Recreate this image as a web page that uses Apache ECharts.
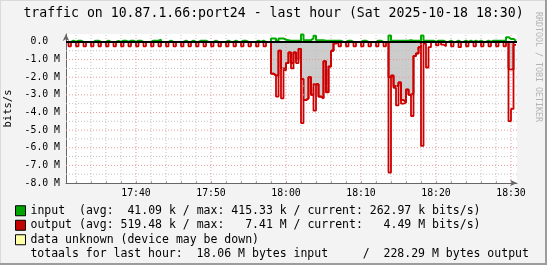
<!DOCTYPE html>
<html><head><meta charset="utf-8">
<script src="https://cdn.jsdelivr.net/npm/echarts@6/dist/echarts.min.js"></script>
<style>html,body{margin:0;padding:0;background:#f3f3f3}#c{width:547px;height:265px}</style>
</head><body><div id="c"></div>
<script>
// time axis in minutes after 17:00; samples every 20 s, each value marks the end of its interval
const startMinute = 30 + 40 / 60;   // 17:30:40, left edge of the plot
const stepMinutes = 20 / 60;
const axisEndMinute = 90.8;
const tickMinutes = [40, 50, 60, 70, 80, 90];
const tickLabels = ['17:40', '17:50', '18:00', '18:10', '18:20', '18:30'];
const yTickValues = [0, -1, -2, -3, -4, -5, -6, -7, -8];
const yTickLabels = ['0.0  ', '-1.0 M', '-2.0 M', '-3.0 M', '-4.0 M', '-5.0 M', '-6.0 M', '-7.0 M', '-8.0 M'];

// input (M bits/s, drawn upward)
const input = [
  0, 0, 0.07, 0, 0.07, 0.07, 0, 0, 0, 0,
  0, 0.07, 0.07, 0, 0, 0, 0.07, 0, 0, 0,
  0.06, 0, 0.07, 0.07, 0, 0.07, 0.07, 0, 0.07, 0.07,
  0, 0, 0, 0, 0.07, 0.07, 0.07, 0.13, 0, 0,
  0, 0.07, 0, 0, 0, 0, 0, 0.07, 0, 0,
  0.07, 0, 0, 0.07, 0.07, 0.07, 0, 0, 0, 0.07,
  0, 0, 0, 0, 0.07, 0, 0, 0.07, 0, 0,
  0.07, 0.07, 0, 0, 0, 0, 0.07, 0, 0.07, 0,
  0, 0, 0.2, 0.2, 0.07, 0.2, 0.2, 0.12, 0.1, 0.07,
  0.07, 0.07, 0.07, 0.07, 0.415, 0.1, 0.1, 0.1, 0.2, 0.35,
  0.1, 0.1, 0.1, 0.07, 0.07, 0.07, 0.07, 0.07, 0.07, 0.07,
  0, 0, 0.07, 0.07, 0, 0, 0, 0, 0.07, 0.07,
  0, 0, 0, 0, 0.07, 0.07, 0, 0, 0, 0.36,
  0.07, 0.07, 0.07, 0.07, 0.07, 0.07, 0.07, 0.1, 0.07, 0.07,
  0.07, 0.07, 0.36, 0.07, 0.07, 0.07, 0.07, 0, 0.07, 0.07,
  0.07, 0, 0, 0.07, 0, 0, 0.07, 0, 0, 0.07,
  0, 0.07, 0, 0.07, 0, 0.07, 0, 0, 0.07, 0,
  0.07, 0.07, 0.07, 0.07, 0.07, 0.07, 0.27, 0.17, 0.17, 0.07
];

// output (M bits/s, drawn downward) - fine red line
const output = [
  0, -0.25, 0, 0, -0.25, 0, 0, -0.25, 0, 0,
  -0.25, 0, 0, -0.25, 0, 0, -0.25, 0, 0, -0.25,
  0, 0, -0.25, 0, 0, -0.25, 0, 0, -0.25, 0,
  0, -0.25, 0, 0, -0.25, 0, 0, -0.25, 0, 0,
  -0.25, 0, 0, -0.25, 0, 0, -0.25, 0, 0, -0.25,
  0, 0, -0.25, 0, 0, -0.25, 0, 0, -0.25, 0,
  0, -0.25, 0, 0, -0.25, 0, 0, -0.25, 0, 0,
  -0.25, 0, 0, -0.25, 0, 0, -0.25, 0, 0, -0.25,
  0, 0, -1.8, -1.9, -3.1, -0.5, -3.2, -1.6, -1.2, -0.6,
  -1.5, -0.6, -1.2, -0.4, -4.6, -3.3, -3.2, -2.0, -3.0, -3.9,
  -2.4, -3.1, -3.2, -1.1, -2.85, -1.4, -0.5, -0.1, 0, -0.25,
  0, 0, -0.25, 0, 0, -0.25, 0, 0, -0.25, 0,
  0, -0.25, 0, 0, -0.25, 0, 0, -0.25, 0, -7.41,
  -1.9, -2.6, -3.6, -2.3, -3.5, -3.45, -2.7, -3.0, -4.2, -0.8,
  -0.65, -0.3, -5.9, -0.1, -1.45, -0.3, 0, 0, -0.2, 0,
  -0.15, -0.25, 0, 0, -0.25, 0, 0, -0.3, 0, 0,
  -0.25, 0, 0, -0.25, 0, 0, -0.25, 0, 0, -0.25,
  0, 0, -0.25, 0, 0, -0.25, 0, -4.49, -3.8, -0.17
];

// grey output area (smoother level), read per valley
const areaValley1Start = 82;
const areaValley1 = [-1.8, -1.9, -1.9, -0.5, -1.5, -1.5, -1.2, -0.6, -1.2, -0.6, -1.0, -0.4, -2.1,
  -3.3, -3.2, -2.0, -3.0, -2.4, -2.4, -3.1, -3.2, -1.1, -2.85, -1.4, -0.5];
const areaValley2Start = 129;
const areaValley2 = [-2.0, -1.9, -2.5, -2.5, -2.3, -3.3, -3.4, -2.7, -3.0, -2.9, -0.8, -0.65, -0.3];
const areaEndStart = 177;
const areaEnd = [-1.55, -1.55];

const legendText = {
  'input': 'input  (avg:  41.09 k / max: 415.33 k / current: 262.97 k bits/s)',
  'output': 'output (avg: 519.48 k / max:   7.41 M / current:   4.49 M bits/s)',
  'data unknown': 'data unknown (device may be down)'
};
const totalsText = 'totaals for last hour:  18.06 M bytes input     /  228.29 M bytes output';
const titleText = 'traffic on 10.87.1.66:port24 - last hour (Sat 2025-10-18 18:30)';

// ---- build series data ----
const mono = "'DejaVu Sans Mono', monospace";
const yTop = 0.45, yBottom = -8;
const times = input.map((_, k) => startMinute + (k + 1) * stepMinutes);
const areaFull = output.map(() => 0);
[[areaValley1Start, areaValley1], [areaValley2Start, areaValley2], [areaEndStart, areaEnd]].forEach(([s, arr]) => {
  arr.forEach((v, i) => { areaFull[s + i] = v; });
});
const pair = arr => arr.map((v, k) => [times[k], v]);

const minorX = [], majorX = tickMinutes.slice();
for (let m = 32; m <= 90; m += 2) if (tickMinutes.indexOf(m) < 0) minorX.push(m);
const allXTicks = [];
for (let m = 32; m <= 90; m += 2) allXTicks.push(m);
const majorY = [-1, -2, -3, -4, -5, -6, -7];
const minorY = [-0.5, -1.5, -2.5, -3.5, -4.5, -5.5, -6.5, -7.5];
function gridSegments(xs, ys) {
  const out = [];
  xs.forEach(x => { out.push([x, yBottom], [x, yTop], [x, null]); });
  ys.forEach(y => { out.push([startMinute, y], [axisEndMinute, y], [null, null]); });
  return out;
}
const minorColor = '#c2c2c2', majorColor = '#e39a9a';

const chart = echarts.init(document.getElementById('c'), null, {renderer: 'canvas'});
chart.setOption({
  animation: false,
  backgroundColor: '#f3f3f3',
  title: {
    text: titleText, left: 'center', top: 7, padding: 0,
    textStyle: {fontFamily: mono, fontSize: 13.2, fontWeight: 'normal', color: '#000'}
  },
  grid: {left: 66, top: 34, width: 451, height: 149, containLabel: false, outerBoundsMode: 'none',
    show: true, backgroundColor: '#ffffff', borderWidth: 0},
  xAxis: {
    type: 'value', min: startMinute, max: axisEndMinute,
    axisLine: {show: true, onZero: false, lineStyle: {color: '#666', width: 1},
      symbol: ['none', 'arrow'], symbolSize: [5, 7]},
    axisTick: {show: true, inside: true, length: 2, customValues: allXTicks, lineStyle: {color: '#999'}},
    axisLabel: {customValues: tickMinutes, formatter: v => tickLabels[tickMinutes.indexOf(v)] || '',
      fontFamily: mono, fontSize: 9.8, color: '#000', margin: 5},
    splitLine: {show: false}
  },
  yAxis: {
    type: 'value', min: yBottom, max: yTop,
    name: 'bits/s', nameLocation: 'middle', nameRotate: 90, nameGap: 51,
    nameTextStyle: {fontFamily: mono, fontSize: 10.5, color: '#000'},
    axisLine: {show: true, onZero: false, lineStyle: {color: '#666', width: 1},
      symbol: ['none', 'arrow'], symbolSize: [5, 7]},
    axisTick: {show: false},
    axisLabel: {customValues: yTickValues, formatter: v => yTickLabels[yTickValues.indexOf(v)] || '',
      fontFamily: mono, fontSize: 9.8, color: '#000', margin: 6},
    splitLine: {show: false}
  },
  legend: {
    orient: 'vertical', left: 10, top: 198.5, itemWidth: 10, itemHeight: 10, itemGap: 0,
    selectedMode: false, icon: 'rect',
    textStyle: {fontFamily: mono, fontSize: 11.5, color: '#000', lineHeight: 14.5},
    formatter: name => legendText[name],
    data: [
      {name: 'input', icon: 'rect', itemStyle: {color: '#00a400', borderColor: '#000', borderWidth: 1}},
      {name: 'output', icon: 'rect', itemStyle: {color: '#c40000', borderColor: '#000', borderWidth: 1}},
      {name: 'data unknown', icon: 'rect', itemStyle: {color: '#ffffa8', borderColor: '#000', borderWidth: 1}}
    ]
  },
  graphic: [
    {type: 'line', shape: {x1: 0, y1: 0.5, x2: 547, y2: 0.5}, style: {stroke: '#dadada', lineWidth: 1}},
    {type: 'line', shape: {x1: 0.5, y1: 0, x2: 0.5, y2: 265}, style: {stroke: '#dadada', lineWidth: 1}},
    {type: 'line', shape: {x1: 0, y1: 264, x2: 547, y2: 264}, style: {stroke: '#9c9c9c', lineWidth: 2}},
    {type: 'line', shape: {x1: 546, y1: 0, x2: 546, y2: 265}, style: {stroke: '#9c9c9c', lineWidth: 2}},
    {type: 'text', x: 30.4, y: 254.3, style: {text: totalsText, font: '11.5px ' + mono, fill: '#000',
      textAlign: 'left', textVerticalAlign: 'middle'}},
    {type: 'text', x: 538, y: 12, rotation: -Math.PI / 2,
      style: {text: 'RRDTOOL / TOBI OETIKER', font: '8.3px ' + mono, fill: '#b4b4b4',
        textAlign: 'left', textVerticalAlign: 'middle'}}
  ],
  series: [
    {
      name: 'output area', type: 'line', step: 'start', data: pair(areaFull), z: 2,
      showSymbol: false, symbol: 'none', silent: true,
      lineStyle: {color: '#cc0000', width: 2}, areaStyle: {color: '#cccccc', opacity: 1}
    },
    {
      name: 'minor grid', type: 'line', data: gridSegments(minorX, minorY), z: 3, silent: true,
      showSymbol: false, symbol: 'none', connectNulls: false,
      lineStyle: {color: minorColor, width: 1, type: [1, 2]}
    },
    {
      name: 'major grid', type: 'line', data: gridSegments(majorX, majorY), z: 3, silent: true,
      showSymbol: false, symbol: 'none', connectNulls: false,
      lineStyle: {color: majorColor, width: 1, type: [1, 2]}
    },
    {
      name: 'output', type: 'line', step: 'start', data: pair(output), z: 4,
      showSymbol: false, symbol: 'none', silent: true, color: '#cc0000',
      lineStyle: {color: '#cc0000', width: 1.8}
    },
    {
      name: 'input', type: 'line', step: 'start', data: pair(input), z: 5,
      showSymbol: false, symbol: 'none', silent: true, color: '#00aa00',
      lineStyle: {color: '#00aa00', width: 2}
    },
    {
      name: 'zero', type: 'line', data: [[startMinute, 0], [axisEndMinute, 0]], z: 6, zlevel: 1, silent: true,
      showSymbol: false, symbol: 'none', lineStyle: {color: '#000000', width: 2}
    },
    {name: 'data unknown', type: 'line', data: [], color: '#ffffa8'}
  ]
});
</script>
</body></html>
